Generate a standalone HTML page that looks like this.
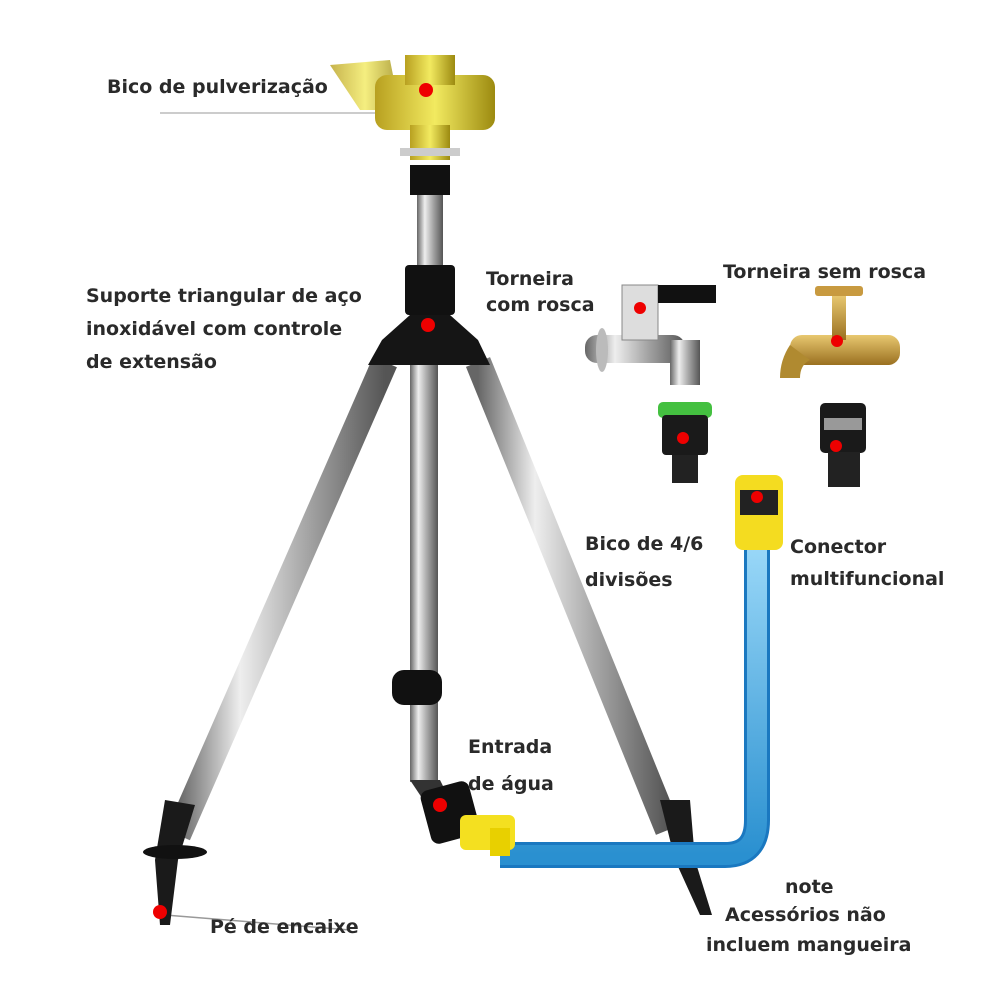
<!DOCTYPE html>
<html><head><meta charset="utf-8"><style>
html,body{margin:0;padding:0;background:#fff;}
svg{display:block}
text{font-family:"DejaVu Sans","Liberation Sans",sans-serif;font-size:19px;font-weight:bold;fill:#2a2a2a;}
</style></head><body>
<svg width="1000" height="1000" viewBox="0 0 1000 1000" xmlns="http://www.w3.org/2000/svg">
<defs>
<linearGradient id="steel" x1="0" x2="1" y1="0" y2="0">
<stop offset="0" stop-color="#666"/><stop offset="0.3" stop-color="#eee"/><stop offset="0.6" stop-color="#aaa"/><stop offset="1" stop-color="#555"/></linearGradient>
<linearGradient id="gold" x1="0" x2="1"><stop offset="0" stop-color="#b8a020"/><stop offset="0.5" stop-color="#f2ea60"/><stop offset="1" stop-color="#9c8a10"/></linearGradient>
<linearGradient id="brass" x1="0" x2="0" y1="0" y2="1"><stop offset="0" stop-color="#e8c870"/><stop offset="1" stop-color="#9a7020"/></linearGradient>
<linearGradient id="blue" x1="0" x2="0" y1="0" y2="1"><stop offset="0" stop-color="#9ad8f8"/><stop offset="1" stop-color="#2a90d0"/></linearGradient>
</defs>
<line x1="160" y1="113" x2="380" y2="113" stroke="#bbb" stroke-width="1.5"/>
<line x1="165" y1="915" x2="350" y2="930" stroke="#999" stroke-width="1.5"/>
<line x1="385" y1="362" x2="178" y2="835" stroke="url(#steel)" stroke-width="26"/>
<line x1="478" y1="362" x2="668" y2="830" stroke="url(#steel)" stroke-width="26"/>
<rect x="410" y="362" width="28" height="420" fill="url(#steel)"/>
<rect x="392" y="670" width="50" height="35" rx="12" fill="#111"/>
<polygon points="165,800 195,805 178,860 170,925 160,925 155,860" fill="#1a1a1a"/>
<ellipse cx="175" cy="852" rx="32" ry="7" fill="#111"/>
<polygon points="660,800 690,800 695,860 712,915 700,915 675,860" fill="#1a1a1a"/>
<ellipse cx="680" cy="852" rx="32" ry="7" fill="#111"/>
<rect x="417" y="175" width="26" height="100" fill="url(#steel)"/>
<rect x="410" y="165" width="40" height="30" fill="#111"/>
<rect x="405" y="265" width="50" height="50" rx="4" fill="#111"/>
<polygon points="368,365 490,365 478,340 450,315 410,315 382,340" fill="#151515"/>
<polygon points="330,65 390,60 400,110 360,110" fill="url(#gold)" opacity="0.8"/>
<rect x="375" y="75" width="120" height="55" rx="12" fill="url(#gold)"/>
<rect x="405" y="55" width="50" height="30" fill="url(#gold)"/>
<rect x="410" y="125" width="40" height="35" fill="url(#gold)"/>
<rect x="400" y="148" width="60" height="8" fill="#ccc"/>
<circle cx="426" cy="90" r="7" fill="#e00"/>
<path d="M500 855 L725 855 Q757 855 757 820 L757 545" fill="none" stroke="#1a78c0" stroke-width="26"/>
<path d="M500 855 L725 855 Q757 855 757 820 L757 545" fill="none" stroke="url(#blue)" stroke-width="20"/>
<polygon points="410,780 440,780 450,800 430,810" fill="#333"/>
<rect x="425" y="785" width="50" height="55" rx="8" fill="#111" transform="rotate(-15 450 812)"/>
<rect x="460" y="815" width="55" height="35" rx="6" fill="#f4e020"/>
<rect x="490" y="828" width="20" height="28" fill="#e8d000"/>
<circle cx="440" cy="805" r="7" fill="#e00"/>
<!-- chrome tap -->
<rect x="585" y="335" width="100" height="28" rx="12" fill="url(#steel)"/>
<rect x="622" y="285" width="36" height="55" fill="#ddd" stroke="#888"/>
<rect x="658" y="285" width="58" height="18" fill="#111"/>
<rect x="670" y="340" width="30" height="45" fill="url(#steel)"/>
<ellipse cx="602" cy="350" rx="6" ry="22" fill="#bbb"/>
<circle cx="640" cy="308" r="6" fill="#e00"/>
<!-- brass tap -->
<rect x="790" y="335" width="110" height="30" rx="12" fill="url(#brass)"/>
<rect x="832" y="295" width="14" height="45" fill="url(#brass)"/>
<rect x="815" y="286" width="48" height="10" rx="3" fill="#c89a40"/>
<path d="M790 345 Q780 360 780 378 L800 378 Q800 365 810 360 Z" fill="#b08a30"/>
<circle cx="837" cy="341" r="6" fill="#e00"/>
<rect x="658" y="402" width="54" height="16" rx="5" fill="#44c040"/>
<rect x="662" y="415" width="46" height="40" rx="4" fill="#1a1a1a"/>
<rect x="672" y="455" width="26" height="28" fill="#222"/>
<circle cx="683" cy="438" r="6" fill="#e00"/>
<rect x="820" y="403" width="46" height="50" rx="5" fill="#1a1a1a"/>
<rect x="824" y="418" width="38" height="12" fill="#999"/>
<rect x="828" y="452" width="32" height="35" fill="#222"/>
<circle cx="836" cy="446" r="6" fill="#e00"/>
<rect x="735" y="475" width="48" height="75" rx="8" fill="#f4dc20"/>
<rect x="740" y="490" width="38" height="25" fill="#222"/>
<circle cx="757" cy="497" r="6" fill="#e00"/>
<circle cx="428" cy="325" r="7" fill="#e00"/>
<circle cx="160" cy="912" r="7" fill="#e00"/>
<text x="107" y="93">Bico de pulverização</text>
<text x="86" y="302">Suporte triangular de aço</text>
<text x="86" y="335">inoxidável com controle</text>
<text x="86" y="368">de extensão</text>
<text x="486" y="285">Torneira</text>
<text x="486" y="311">com rosca</text>
<text x="723" y="278">Torneira sem rosca</text>
<text x="585" y="550">Bico de 4/6</text>
<text x="585" y="586">divisões</text>
<text x="790" y="553">Conector</text>
<text x="790" y="585">multifuncional</text>
<text x="468" y="753">Entrada</text>
<text x="468" y="790">de água</text>
<text x="210" y="933">Pé de encaixe</text>
<text x="785" y="893">note</text>
<text x="725" y="921">Acessórios não</text>
<text x="706" y="951">incluem mangueira</text>
</svg>
</body></html>
